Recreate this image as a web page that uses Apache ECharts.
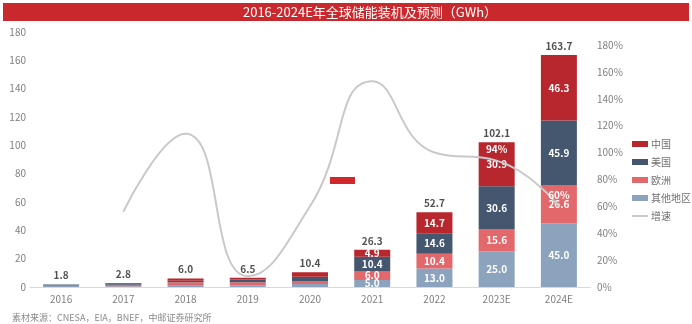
<!DOCTYPE html>
<html>
<head>
<meta charset="utf-8">
<script src="https://cdn.jsdelivr.net/npm/echarts@6/dist/echarts.min.js"></script>
<style>
  html, body { margin: 0; padding: 0; background: #ffffff; }
  #chart { width: 692px; height: 324px; }
</style>
</head>
<body>
<div id="chart"></div>
<script>
// Global energy storage installations by region, GWh
const years = ['2016', '2017', '2018', '2019', '2020', '2021', '2022', '2023E', '2024E'];
const other = [0.7, 0.6, 0.8, 1.3, 2.2, 5.0, 13.0, 25.0, 45.0];
const europe = [0.4, 1.0, 2.6, 2.0, 2.0, 6.0, 10.4, 15.6, 26.6];
const usa = [0.6, 0.7, 1.0, 2.0, 3.0, 10.4, 14.6, 30.6, 45.9];
const china = [0.1, 0.5, 1.6, 1.2, 3.2, 4.9, 14.7, 30.9, 46.3];
const totals = [1.8, 2.8, 6.0, 6.5, 10.4, 26.3, 52.7, 102.1, 163.7];
// year-on-year growth, %
const growth = [null, 56, 114, 8, 60, 153, 100, 94, 60];
const growthLabelled = [7, 8];
const leftTicks = { min: 0, max: 180, interval: 20 };
const rightTicks = { min: 0, max: 180, interval: 20 };

const FONT = '"Noto Sans CJK SC", "Noto Sans", sans-serif';
const colors = {
  china: '#b7272d',
  usa: '#44576f',
  europe: '#e2686c',
  other: '#8ca3bd',
  growth: '#c9c9c9'
};

const firstLabelled = 5;
function segment(name, values, color) {
  return {
    name: name,
    type: 'bar',
    stack: 'total',
    xAxisIndex: 0,
    yAxisIndex: 0,
    barWidth: 36,
    itemStyle: { color: color },
    label: {
      show: true,
      position: 'inside',
      color: '#ffffff',
      fontWeight: 'bold',
      fontSize: 10,
      fontFamily: FONT,
      formatter: p => p.dataIndex >= firstLabelled ? p.value.toFixed(1) : ''
    },
    data: values
  };
}

const chart = echarts.init(document.getElementById('chart'), null, { renderer: 'canvas' });
chart.setOption({
  animation: false,
  backgroundColor: '#ffffff',
  textStyle: { fontFamily: FONT },
  graphic: [
    { type: 'rect', shape: { x: 3, y: 3, width: 686, height: 18 }, style: { fill: '#c9292d' }, z: 0 },
    {
      type: 'text', x: 370, y: 12,
      style: {
        text: '2016-2024E年全球储能装机及预测（GWh）',
        fill: '#ffffff', font: '13px ' + FONT,
        textAlign: 'center', textVerticalAlign: 'middle'
      }
    },
    { type: 'rect', shape: { x: 330, y: 177, width: 25, height: 7 }, style: { fill: '#d2282c' }, z: 5 },
    {
      type: 'text', x: 12, y: 318,
      style: {
        text: '素材来源：CNESA，EIA，BNEF，中邮证券研究所',
        fill: '#8a8a8a', font: '9px "Noto Sans CJK SC", serif',
        textVerticalAlign: 'middle'
      }
    }
  ],
  legend: {
    orient: 'vertical',
    left: 627,
    top: 134,
    itemWidth: 16,
    itemHeight: 6,
    itemGap: 8,
    symbolKeepAspect: true,
    textStyle: { fontSize: 10, color: '#707070', fontFamily: FONT, padding: [0, 0, 0, -2] },
    data: [
      { name: '中国', icon: 'rect' },
      { name: '美国', icon: 'rect' },
      { name: '欧洲', icon: 'rect' },
      { name: '其他地区', icon: 'rect' },
      { name: '增速', icon: 'path://M0,0 L16,0 L16,2 L0,2 Z' }
    ]
  },
  grid: [
    { left: 30, right: 102, top: 32, bottom: 37 },
    { left: 30, right: 102, top: 45, bottom: 37 }
  ],
  xAxis: [
    {
      type: 'category', gridIndex: 0, data: years,
      axisLine: { lineStyle: { color: '#d9d9d9' } },
      axisTick: { show: false },
      axisLabel: { color: '#7f7f7f', fontSize: 10, margin: 7, fontFamily: FONT }
    },
    {
      type: 'category', gridIndex: 1, data: years, show: false
    }
  ],
  yAxis: [
    {
      type: 'value', gridIndex: 0,
      min: leftTicks.min, max: leftTicks.max, interval: leftTicks.interval,
      splitLine: { show: false },
      axisLine: { show: false }, axisTick: { show: false },
      axisLabel: { color: '#7f7f7f', fontSize: 10, margin: 4, fontFamily: FONT }
    },
    {
      type: 'value', gridIndex: 1, position: 'right',
      min: rightTicks.min, max: rightTicks.max, interval: rightTicks.interval,
      splitLine: { show: false },
      axisLine: { show: false }, axisTick: { show: false },
      axisLabel: { color: '#7f7f7f', fontSize: 10, margin: 7, formatter: '{value}%', fontFamily: FONT }
    }
  ],
  series: [
    segment('其他地区', other, colors.other),
    segment('欧洲', europe, colors.europe),
    segment('美国', usa, colors.usa),
    segment('中国', china, colors.china),
    {
      name: 'totals',
      type: 'scatter',
      xAxisIndex: 0, yAxisIndex: 0,
      symbolSize: 0,
      silent: true,
      label: {
        show: true, position: 'top', distance: 4,
        color: '#262626', fontWeight: 'bold', fontSize: 10, fontFamily: FONT,
        formatter: p => p.value.toFixed(1)
      },
      data: totals,
      z: 4
    },
    {
      name: '增速',
      type: 'line',
      xAxisIndex: 1, yAxisIndex: 1,
      smooth: 0.5,
      symbol: 'circle',
      symbolSize: 0.01,
      showSymbol: true,
      lineStyle: { color: colors.growth, width: 2 },
      itemStyle: { color: colors.growth },
      label: {
        show: true, position: 'top', distance: 6,
        color: '#ffffff', fontWeight: 'bold', fontSize: 10, fontFamily: FONT,
        formatter: p => growthLabelled.indexOf(p.dataIndex) >= 0 ? p.value + '%' : ''
      },
      data: growth,
      z: 6
    }
  ]
});
</script>
</body>
</html>
